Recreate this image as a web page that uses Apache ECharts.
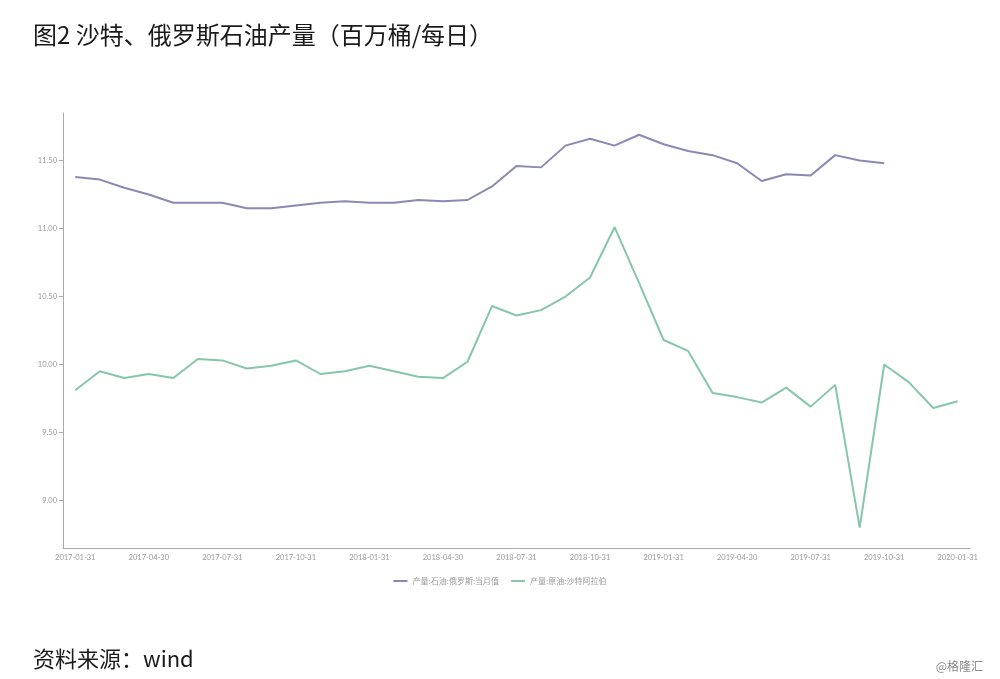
<!DOCTYPE html>
<html>
<head>
<meta charset="utf-8">
<script src="https://cdn.jsdelivr.net/npm/echarts@6/dist/echarts.min.js"></script>
<style>
html,body{margin:0;padding:0;background:#fff;}
#chart{width:1000px;height:679px;}
</style>
</head>
<body>
<div id="chart"></div>
<script>
var categories = [
  "2017-01-31","2017-02-28","2017-03-31","2017-04-30","2017-05-31","2017-06-30",
  "2017-07-31","2017-08-31","2017-09-30","2017-10-31","2017-11-30","2017-12-31",
  "2018-01-31","2018-02-28","2018-03-31","2018-04-30","2018-05-31","2018-06-30",
  "2018-07-31","2018-08-31","2018-09-30","2018-10-31","2018-11-30","2018-12-31",
  "2019-01-31","2019-02-28","2019-03-31","2019-04-30","2019-05-31","2019-06-30",
  "2019-07-31","2019-08-31","2019-09-30","2019-10-31","2019-11-30","2019-12-31",
  "2020-01-31"
];
var russiaName = "产量:石油:俄罗斯:当月值";
var russia = [
  11.38, 11.36, 11.30, 11.25, 11.19, 11.19, 11.19, 11.15, 11.15, 11.17, 11.19, 11.20,
  11.19, 11.19, 11.21, 11.20, 11.21, 11.31, 11.46, 11.45, 11.61, 11.66, 11.61, 11.69,
  11.62, 11.57, 11.54, 11.48, 11.35, 11.40, 11.39, 11.54, 11.50, 11.48, null, null, null
];
var saudiName = "产量:原油:沙特阿拉伯";
var saudi = [
  9.81, 9.95, 9.90, 9.93, 9.90, 10.04, 10.03, 9.97, 9.99, 10.03, 9.93, 9.95,
  9.99, 9.95, 9.91, 9.90, 10.02, 10.43, 10.36, 10.40, 10.50, 10.64, 11.01, 10.60,
  10.18, 10.10, 9.79, 9.76, 9.72, 9.83, 9.69, 9.85, 8.80, 10.00, 9.87, 9.68, 9.73
];
var yTicks = [9.0, 9.5, 10.0, 10.5, 11.0, 11.5];
var titleText = "图2 沙特、俄罗斯石油产量（百万桶/每日）";
var sourceText = "资料来源：wind";
var watermarkText = "@格隆汇";

var chart = echarts.init(document.getElementById('chart'), null, {renderer: 'canvas'});
var axisFont = 'Lato, "Noto Sans", sans-serif';
var option = {
  backgroundColor: '#ffffff',
  animation: false,
  title: [
    {text: titleText, left: 28, top: 18,
     textStyle: {fontFamily: '"Noto Sans CJK SC", sans-serif', fontSize: 24, fontWeight: 'normal', color: '#1a1a1a'}},
    {text: sourceText, left: 28, top: 643,
     textStyle: {fontFamily: '"Noto Sans CJK SC", sans-serif', fontSize: 22, fontWeight: 'normal', color: '#1a1a1a'}},
    {text: watermarkText, right: 12, top: 655,
     textStyle: {fontFamily: '"Noto Sans CJK SC", sans-serif', fontSize: 12, fontWeight: 'normal', color: '#8a8a8a'}}
  ],
  legend: {
    top: 572, left: 'center',
    icon: 'rect',
    itemWidth: 14, itemHeight: 2, itemGap: 12,
    textStyle: {fontSize: 8, color: '#999', fontFamily: '"Noto Sans CJK SC", sans-serif'},
    data: [russiaName, saudiName]
  },
  grid: {left: 63, right: 30, top: 113, bottom: 131, containLabel: false},
  xAxis: {
    type: 'category',
    data: categories,
    boundaryGap: true,
    axisLine: {lineStyle: {color: '#aaaaaa', width: 1}},
    axisTick: {alignWithLabel: true, interval: 2, length: 4, lineStyle: {color: '#aaaaaa'}},
    axisLabel: {interval: 2, fontSize: 7.5, color: '#999', margin: 6, fontFamily: axisFont},
    splitLine: {show: false}
  },
  yAxis: {
    type: 'value',
    min: 8.65, max: 11.85,
    axisLine: {show: true, lineStyle: {color: '#aaaaaa', width: 1}},
    axisTick: {show: true, length: 4, customValues: yTicks, lineStyle: {color: '#aaaaaa'}},
    axisLabel: {customValues: yTicks, fontSize: 7.5, color: '#999', margin: 6, fontFamily: axisFont,
      formatter: function (v) { return Number(v).toFixed(2); }},
    splitLine: {show: false}
  },
  series: [
    {name: russiaName, type: 'line', data: russia, symbol: 'none', connectNulls: false,
     lineStyle: {color: '#8a88b4', width: 2}, itemStyle: {color: '#8a88b4'}},
    {name: saudiName, type: 'line', data: saudi, symbol: 'none',
     lineStyle: {color: '#86c7ac', width: 2}, itemStyle: {color: '#86c7ac'}}
  ]
};
chart.setOption(option);
</script>
</body>
</html>
